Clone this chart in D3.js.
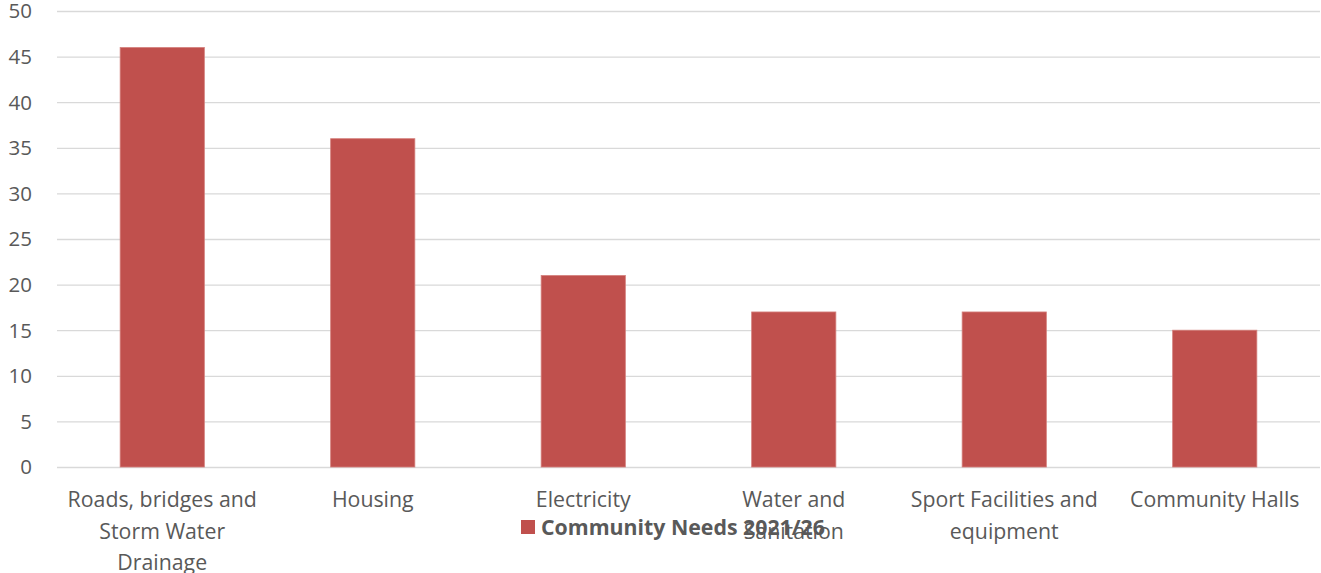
<!DOCTYPE html>
<html>
<head>
<meta charset="utf-8">
<script src="https://cdn.jsdelivr.net/npm/d3@7"></script>
<style>
  html, body { margin: 0; padding: 0; background: #fff; }
  svg { display: block; }
  text { font-family: "Open Sans", "Noto Sans", sans-serif; fill: #595959; }
</style>
</head>
<body>
<svg id="chart" width="1321" height="573"></svg>
<script>
// Community needs, 2021/26
const categories = [
  "Roads, bridges and Storm Water Drainage",
  "Housing",
  "Electricity",
  "Water and Sanitation",
  "Sport Facilities and equipment",
  "Community Halls"
];
// Category labels as they wrap under each bar
const categoryLines = [
  ["Roads, bridges and", "Storm Water", "Drainage"],
  ["Housing"],
  ["Electricity"],
  ["Water and", "Sanitation"],
  ["Sport Facilities and", "equipment"],
  ["Community Halls"]
];
const needs = [46, 36, 21, 17, 17, 15];
const yTicks = [0, 5, 10, 15, 20, 25, 30, 35, 40, 45, 50];
const seriesName = "Community Needs 2021/26";

const svg = d3.select("#chart");
const margin = { left: 57, right: 1, top: 11, bottom: 106 };
const W = 1321, H = 573;
const fontSize = 21.3;

const x = d3.scaleBand()
  .domain(categories)
  .range([margin.left, W - margin.right])
  .paddingInner(0.6)
  .paddingOuter(0.3);

const y = d3.scaleLinear()
  .domain([0, 50])
  .range([H - margin.bottom, margin.top]);

// Gridlines and y-axis labels
const yAxis = d3.axisLeft(y)
  .tickValues(yTicks)
  .tickSize(-(W - margin.right - margin.left))
  .tickPadding(25);

const yg = svg.append("g")
  .attr("transform", `translate(${margin.left},0)`)
  .call(yAxis);
yg.select(".domain").remove();
yg.selectAll(".tick line").attr("stroke", "#d9d9d9").attr("stroke-width", 1.3);
yg.selectAll(".tick text")
  .attr("font-size", 20.5)
  .attr("dy", "0.34em")
  .attr("fill", "#595959")
  .style("font-family", '"Open Sans", sans-serif');

// Bars
svg.append("g").selectAll("rect")
  .data(needs)
  .join("rect")
  .attr("x", (d, i) => x(categories[i]))
  .attr("y", d => y(d))
  .attr("width", x.bandwidth())
  .attr("height", d => y(0) - y(d))
  .attr("fill", "#c0504d")
  .attr("stroke", "#d4807d")
  .attr("stroke-width", 0.8);

// Category labels
const labelG = svg.append("g");
categories.forEach((c, i) => {
  const cx = x(c) + x.bandwidth() / 2;
  const t = labelG.append("text")
    .attr("text-anchor", "middle")
    .attr("font-size", fontSize)
    .attr("x", cx)
    .attr("y", y(0) + 40);
  categoryLines[i].forEach((line, j) => {
    t.append("tspan")
      .attr("x", cx)
      .attr("dy", j === 0 ? 0 : 31.5)
      .text(line);
  });
});

// Legend
const legend = svg.append("g").attr("transform", "translate(521,520)");
legend.append("rect")
  .attr("width", 14).attr("height", 14)
  .attr("fill", "#c0504d");
legend.append("text")
  .attr("x", 20).attr("y", 14.5)
  .attr("font-size", fontSize)
  .attr("font-weight", "bold")
  .text(seriesName);
</script>
</body>
</html>
